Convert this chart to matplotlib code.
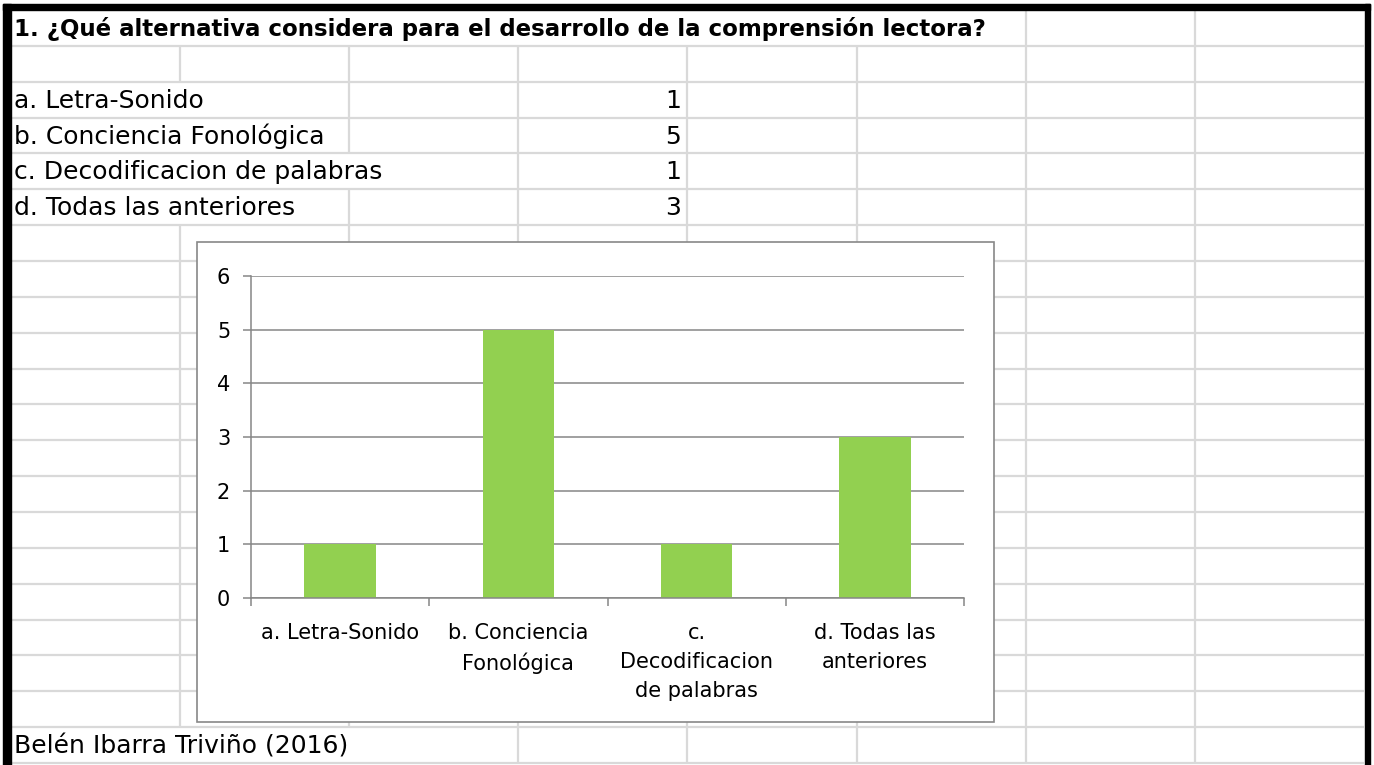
"""Spreadsheet screenshot: question 1 table + embedded column chart."""
import matplotlib
matplotlib.use('Agg')
import matplotlib.pyplot as plt
import matplotlib.patches as mpatches
import numpy as np

plt.rcParams['font.family'] = ['DejaVu Sans']

TITLE = '1. ¿Qué alternativa considera para el desarrollo de la comprensión lectora?'
options = ['a. Letra-Sonido', 'b. Conciencia Fonológica',
           'c. Decodificacion de palabras', 'd. Todas las anteriores']
counts = [1, 5, 1, 3]
tick_labels = ['a. Letra-Sonido', 'b. Conciencia\nFonológica',
               'c.\nDecodificacion\nde palabras', 'd. Todas las\nanteriores']
SOURCE = 'Belén Ibarra Triviño (2016)'

W, H = 1374, 765
GRID = '#d9d9d9'
AXIS_GRAY = '#868686'
BAR = '#92d050'

fig = plt.figure(figsize=(W / 100, H / 100), dpi=100)
bg = fig.add_axes([0, 0, 1, 1])
bg.set_xlim(0, W)
bg.set_ylim(H, 0)
bg.axis('off')

# ── sheet grid ──
col_x = [11 + 169.1 * k for k in range(9)]
row_y = [10 + 35.86 * k for k in range(22)]
nrows = len(row_y) - 1
hidden = {0: [1, 2, 3, 4, 5], 2: [1], 3: [1], 4: [1, 2], 5: [1], nrows - 1: [1, 2]}
for r in range(nrows):
    for c in range(1, 8):
        if c in hidden.get(r, []):
            continue
        bg.plot([col_x[c], col_x[c]], [row_y[r], row_y[r + 1]], color=GRID, lw=1.6,
                solid_capstyle='butt', zorder=1)
for y in row_y[1:]:
    bg.plot([col_x[0], col_x[-1]], [y, y], color=GRID, lw=1.6, solid_capstyle='butt', zorder=1)

# thick black frame (left, top, right)
bg.add_patch(mpatches.Rectangle((3, 4), 8, H, color='black', zorder=3))
bg.add_patch(mpatches.Rectangle((3, 4), 1367, 6, color='black', zorder=3))
bg.add_patch(mpatches.Rectangle((1365, 4), 5, H, color='black', zorder=3))

# ── sheet text ──
def row_mid(r):
    return (row_y[r] + row_y[r + 1]) / 2 + 1

bg.text(14, row_mid(0), TITLE, fontsize=16.5, fontweight='bold', va='center', ha='left', zorder=4)
for i, (lab, n) in enumerate(zip(options, counts)):
    bg.text(14, row_mid(2 + i), lab, fontsize=18, va='center', ha='left', zorder=4)
    bg.text(681, row_mid(2 + i), str(n), fontsize=18, va='center', ha='right', zorder=4)
bg.text(14, row_mid(nrows - 1), SOURCE, fontsize=18, va='center', ha='left', zorder=4)

# chart frame covering the grid
bg.add_patch(mpatches.Rectangle((197, 242), 797, 480, facecolor='white',
                                edgecolor='#888888', lw=1.2, zorder=2))

# ── embedded column chart ──
ax = fig.add_axes([251 / W, 1 - 598 / H, (964 - 251) / W, (598 - 276) / H])
ax.set_facecolor('none')
x = np.arange(len(counts))
ax.bar(x, counts, width=0.4, color=BAR, zorder=2)
ax.set_xlim(-0.5, len(counts) - 0.5)
ax.set_ylim(0, 6)
ax.set_yticks(range(0, 7))
ax.yaxis.grid(True, color=AXIS_GRAY, lw=1.1)
ax.set_axisbelow(True)
ax.set_xticks(x)
ax.set_xticklabels(tick_labels, fontsize=15, linespacing=1.55)
ax.set_xticks(np.arange(-0.5, len(counts)), minor=True)
ax.tick_params(axis='x', which='major', length=0, pad=18)
ax.tick_params(axis='x', which='minor', length=6, color=AXIS_GRAY, width=1.1, direction='out')
ax.tick_params(axis='y', length=6, color=AXIS_GRAY, width=1.1, labelsize=15, pad=9)
for s in ['top', 'right']:
    ax.spines[s].set_visible(False)
for s in ['left', 'bottom']:
    ax.spines[s].set_color(AXIS_GRAY)
    ax.spines[s].set_linewidth(1.1)

fig.savefig('out.png', dpi=100)
